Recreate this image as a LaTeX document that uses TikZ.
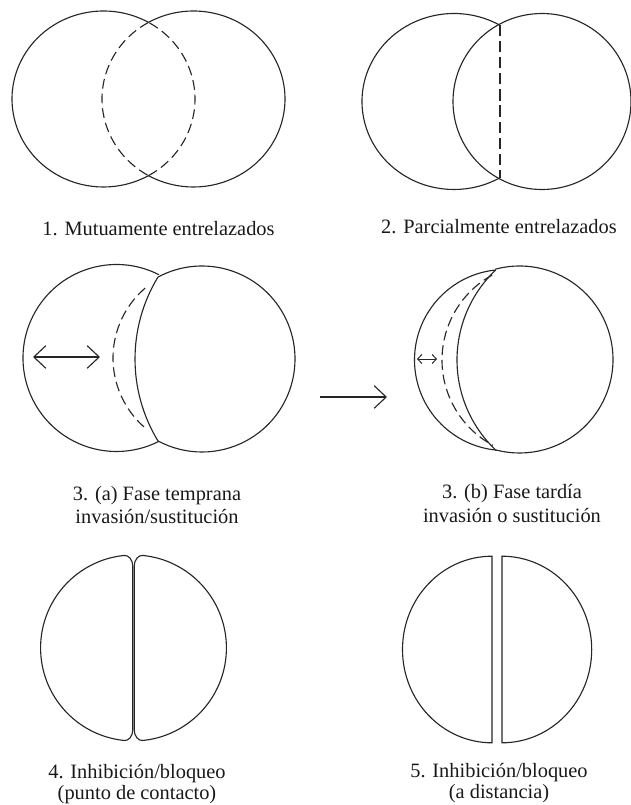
\documentclass[tikz,border=0pt]{standalone}
\usepackage{fontspec}
\setmainfont{Liberation Serif}
\usetikzlibrary{arrows.meta}
\begin{document}
\begin{tikzpicture}[x=0.025cm,y=0.025cm,
  ln/.style={line width=0.8pt,draw=black!85},
  dsh/.style={ln,dash pattern=on 7pt off 3.5pt},
  lab/.style={anchor=base,inner sep=0pt,text=black!90,font=\fontsize{14.5}{17}\selectfont},
  bigarr/.style={ln,>={Straight Barb[length=8.5pt,width=16pt]}},
  smallarr/.style={ln,line width=0.7pt,>={Straight Barb[length=3pt,width=6.5pt]}}]
\useasboundingbox (0,0) rectangle (631,-805);

% ---------- 1. Mutuamente entrelazados ----------
\draw[ln] ([shift={(103.5,-99)}]60.54:91.5 and 88) arc[start angle=60.54,end angle=299.46,x radius=91.5,y radius=88];
\draw[dsh] ([shift={(103.5,-99)}]-60.54:91.5 and 88) arc[start angle=-60.54,end angle=60.54,x radius=91.5,y radius=88];
\draw[ln] ([shift={(193.5,-99)}]119.46:91.5 and 88) arc[start angle=119.46,end angle=-119.46,x radius=91.5,y radius=88];
\draw[dsh] ([shift={(193.5,-99)}]119.46:91.5 and 88) arc[start angle=119.46,end angle=240.54,x radius=91.5,y radius=88];
\node[lab] (l1) at (158.5,-235) {1. Mutuamente entrelazados};

% ---------- 2. Parcialmente entrelazados ----------
\draw[ln] ([shift={(454,-101.5)}]60:92 and 88) arc[start angle=60,end angle=300,x radius=92,y radius=88];
\draw[ln] (542,-101.5) ellipse[x radius=89,y radius=88];
\coordinate (p2t) at (500,-24.6);
\coordinate (p2b) at (500,-178.4);
\draw[dsh,dash pattern=on 8pt off 3.5pt] (p2t) -- (p2b);
\node[lab] (l2) at (499,-233) {2. Parcialmente entrelazados};

% ---------- 3 (a) Fase temprana ----------
\draw[ln] ([shift={(116.5,-358)}]63:93.5) arc[start angle=63,end angle=297,radius=93.5];
\draw[ln] ([shift={(202,-359)}]118.2:93) arc[start angle=118.2,end angle=-118.2,radius=93];
\draw[ln] ([shift={(292.7,-359)}]148.7:157.7) arc[start angle=148.7,end angle=211.3,radius=157.7];
\draw[dsh] ([shift={(205,-358)}]130.6:92) arc[start angle=130.6,end angle=228.5,radius=92];
\coordinate (a3l) at (33,-357);
\coordinate (a3r) at (100,-357);
\draw[bigarr,<->] (a3l) -- (a3r);
\node[lab] (l3a1) at (157,-500) {3. (a) Fase temprana};
\node[lab] (l3a2) at (157,-523) {invasión/sustitución};

% ---------- arrow between 3a and 3b ----------
\coordinate (mA) at (320,-397);
\coordinate (mB) at (387,-397);
\draw[bigarr,->] (mA) -- (mB);

% ---------- 3 (b) Fase tardia ----------
\draw[ln] ([shift={(519.5,-359.5)}]105.2:93.5) arc[start angle=105.2,end angle=-103.9,radius=93.5];
\draw[ln] ([shift={(505,-360)}]96.3:90.5) arc[start angle=96.3,end angle=265,radius=90.5];
\draw[ln] ([shift={(581,-360)}]133.5:124) arc[start angle=133.5,end angle=227,radius=124];
\draw[dsh] ([shift={(539,-360)}]118.9:97) arc[start angle=118.9,end angle=241.6,radius=97];
\coordinate (b3l) at (417,-359);
\coordinate (b3r) at (437,-359);
\draw[smallarr,<->] (b3l) -- (b3r);
\node[lab] (l3b1) at (512,-498) {3. (b) Fase tardía};
\node[lab] (l3b2) at (512,-522) {invasión o sustitución};

% ---------- 4. Inhibicion/bloqueo (punto de contacto) ----------
\draw[ln] (132.8,-566) .. controls (132.8,-560) and (128.5,-555) .. (124.5,-555.4)
  arc[start angle=95.6,end angle=264.4,radius=93]
  .. controls (128.5,-741) and (132.8,-736) .. (132.8,-730) -- cycle;
\draw[ln] (134.2,-566) .. controls (134.2,-560) and (138.5,-555) .. (142.5,-555.4)
  arc[start angle=84.4,end angle=-84.4,radius=93]
  .. controls (138.5,-741) and (134.2,-736) .. (134.2,-730) -- cycle;
\node[lab] (l41) at (137,-778) {4. Inhibición/bloqueo};
\node[lab] (l42) at (137,-799) {(punto de contacto)};

% ---------- 5. Inhibicion/bloqueo (a distancia) ----------
\draw[ln] (492,-556.2) arc[start angle=90,end angle=270,x radius=89.5,y radius=93.3] -- cycle;
\draw[ln] (502,-556.2) arc[start angle=90,end angle=-90,x radius=89.7,y radius=93.3] -- cycle;
\node[lab] (l51) at (499,-777) {5. Inhibición/bloqueo};
\node[lab] (l52) at (499,-798) {(a distancia)};
\end{tikzpicture}
\end{document}
